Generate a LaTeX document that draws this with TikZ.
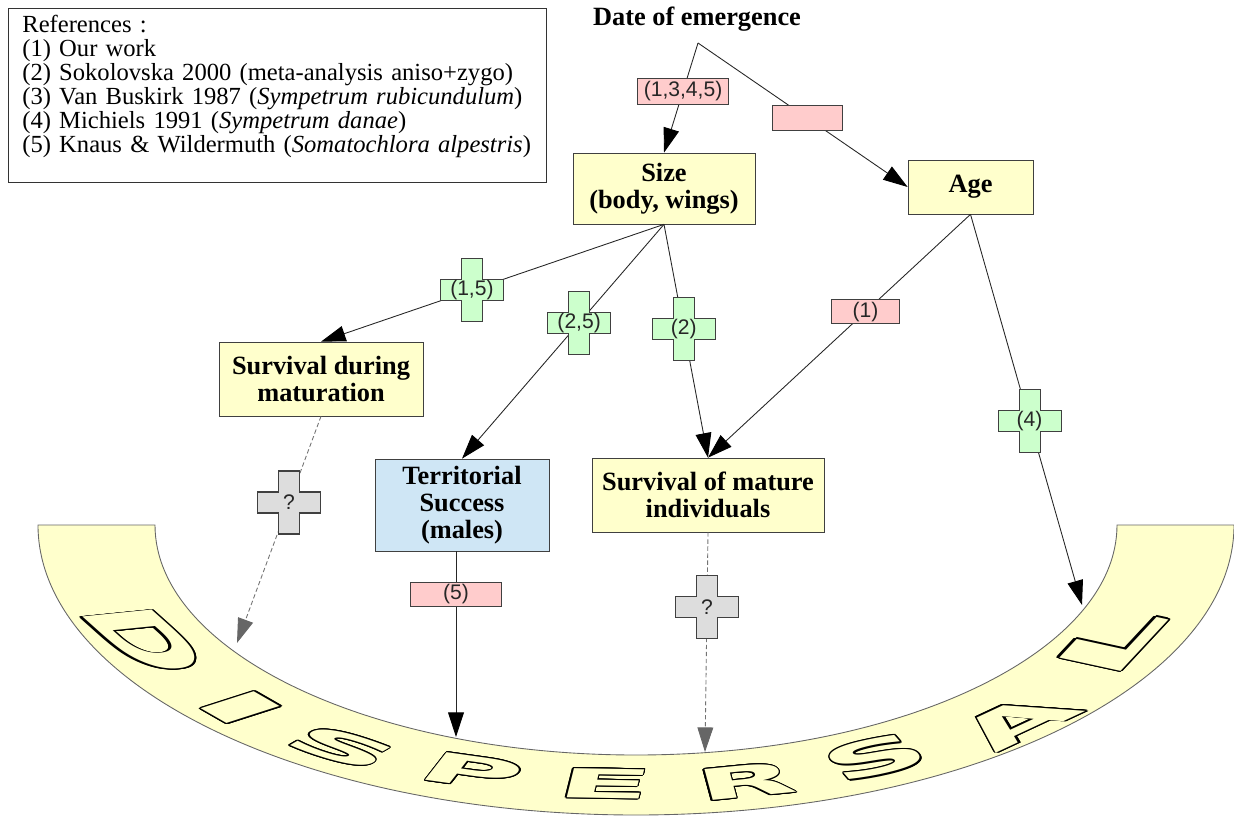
\documentclass[tikz,border=0pt]{standalone}
\usepackage{fontspec}
\setmainfont{Liberation Serif}
\newfontfamily\labelfont{Liberation Sans}
\newfontfamily\dispfont{DejaVu Sans}[FakeStretch=2.5]
\usepackage{contour}
\contourlength{0.75pt}
\usetikzlibrary{arrows.meta}
\definecolor{boxyellow}{HTML}{FFFFCC}
\definecolor{boxblue}{HTML}{CFE6F5}
\definecolor{labpink}{HTML}{FFCCCC}
\definecolor{labgreen}{HTML}{CCFFCC}
\definecolor{labgray}{HTML}{DDDDDD}
\definecolor{bandfill}{HTML}{FFFFCC}

\tikzset{
  box/.style={draw=black!75, fill=boxyellow, align=center, inner sep=2pt, font=\bfseries\fontsize{15}{15.5}\selectfont},
  ref/.style={draw=black!75, fill=labpink, inner sep=0pt, text=black!85, font=\labelfont\fontsize{12}{12}\selectfont},
  plus/.style={minimum size=1.3cm, inner sep=0pt, text=black!85, font=\labelfont\fontsize{12}{12}\selectfont,
    path picture={\filldraw[solid, fill=#1, draw=black!75, line width=0.6pt]
      ([shift={(-0.21cm,-0.63cm)}]path picture bounding box.center) -- ++(0.42cm,0) -- ++(0,0.42cm) -- ++(0.42cm,0)
      -- ++(0,0.42cm) -- ++(-0.42cm,0) -- ++(0,0.42cm) -- ++(-0.42cm,0) -- ++(0,-0.42cm) -- ++(-0.42cm,0)
      -- ++(0,-0.42cm) -- ++(0.42cm,0) -- cycle;}},
  link/.style={draw=black!85, line width=0.5pt, -{Triangle[length=14pt, width=9pt, color=black]}},
  maybe/.style={draw=black!55, line width=0.5pt, dash pattern=on 2.5pt off 1.5pt, -{Triangle[length=14pt, width=9pt, color=black!60]}},
  dispchar/.style={inner sep=0pt, text=bandfill, font=\dispfont\bfseries\fontsize{30}{30}\selectfont},
}

\begin{document}
\begin{tikzpicture}[x=0.02cm, y=-0.02cm]
  \useasboundingbox (0,0) rectangle (1234,818);

  % bande DISPERSAL
  \filldraw[fill=bandfill, draw=black!60, line width=0.5pt] (38,525) arc[start angle=180, end angle=0, x radius=598, y radius=290]
    -- (1117,525) arc[start angle=0, end angle=180, x radius=481, y radius=230] -- cycle;
  \node[dispchar, cm={0.683,-0.611,1.801,0.180,(0,0)}] (disp1) at (145,640) {\contour{black}{D}};
  \node[dispchar, cm={1.040,-0.595,1.381,0.443,(0,0)}] (disp2) at (240,708) {\contour{black}{I}};
  \node[dispchar, cm={0.992,-0.299,0.901,0.520,(0,0)}] (disp3) at (342,748) {\contour{black}{S}};
  \node[dispchar, cm={0.990,-0.139,0.560,0.717,(0,0)}] (disp4) at (472,772) {\contour{black}{P}};
  \node[dispchar, cm={1.050,-0.018,0.189,0.757,(0,0)}] (disp5) at (605,784) {\contour{black}{E}};
  \node[dispchar, cm={0.965,0.095,-0.215,0.802,(0,0)}] (disp6) at (746,782) {\contour{black}{R}};
  \node[dispchar, cm={1.008,0.240,-0.682,0.785,(0,0)}] (disp7) at (876,758) {\contour{black}{S}};
  \node[dispchar, cm={0.892,0.416,-1.317,0.532,(0,0)}] (disp8) at (1017,722) {\contour{black}{A}};
  \node[dispchar, cm={0.702,0.753,-1.593,0.347,(0,0)}] (disp9) at (1112,642) {\contour{black}{L}};

  % references
  \node[draw=black!80, fill=white, anchor=north west, align=left, text width=10.2cm, inner xsep=0.28cm, inner ysep=4pt,
    text depth=81pt, font=\fontsize{14}{13.6}\selectfont] (refs) at (8,8)
    {References :\\(1) Our work\\(2) Sokolovska 2000 (meta-analysis aniso+zygo)\\(3) Van Buskirk 1987 (\textit{Sympetrum rubicundulum})\\(4) Michiels 1991 (\textit{Sympetrum danae})\\(5) Knaus \& Wildermuth (\textit{Somatochlora alpestris})};

  % boites
  \node[font=\bfseries\fontsize{15}{15}\selectfont] (date) at (697,19) {Date of emergence};
  \node[box, minimum width=3.64cm, minimum height=1.42cm] (size) at (664,188.5) {Size\\(body, wings)};
  \node[box, minimum width=2.5cm, minimum height=1.08cm] (age) at (970.5,187) {Age};
  \node[box, minimum width=4.08cm, minimum height=1.48cm] (survmat) at (321,379) {Survival during\\maturation};
  \node[box, fill=boxblue, minimum width=3.48cm, minimum height=1.84cm] (terr) at (462,505) {Territorial\\Success\\(males)};
  \node[box, minimum width=4.64cm, minimum height=1.48cm] (survmature) at (708,495) {Survival of mature\\individuals};

  %points
  \coordinate (fork) at (698,43);
  \coordinate (t1) at (237,643);
  \coordinate (t5) at (456,737);
  \coordinate (t2) at (705,752);
  \coordinate (t4) at (1082,605);

  % fleches
  \draw[link] (fork) -- node[ref, minimum width=1.82cm, minimum height=0.52cm, pos=0.44] (r1345) {(1,3,4,5)} (size.north);
  \draw[link] (fork) -- node[ref, minimum width=1.4cm, minimum height=0.5cm, pos=0.52] (rnone) {} (age.west);
  \draw[link] (size.south) -- node[plus=labgreen, pos=0.56] (p15) {(1,5)} (survmat.north);
  \draw[link] (size.south) -- node[plus=labgreen, pos=0.42] (p25) {(2,5)} (terr.north);
  \draw[link] (size.south) -- node[plus=labgreen, pos=0.45] (p2) {(2)} (survmature.north);
  \draw[link] (age.south) -- node[ref, minimum width=1.36cm, minimum height=0.48cm, pos=0.4] (r1) {(1)} (survmature.north);
  \draw[link] (age.south) -- node[plus=labgreen, pos=0.53] (p4) {(4)} (t4);
  \draw[link] (terr.south -| t5) -- node[ref, minimum width=1.82cm, minimum height=0.48cm, pos=0.23] (r5) {(5)} (t5);
  %pointilles
  \draw[maybe] (survmat.south) -- node[plus=labgray, pos=0.38] (q1) {?} (t1);
  \draw[maybe] (survmature.south) -- node[plus=labgray, pos=0.34] (q2) {?} (t2);
\end{tikzpicture}
\end{document}
